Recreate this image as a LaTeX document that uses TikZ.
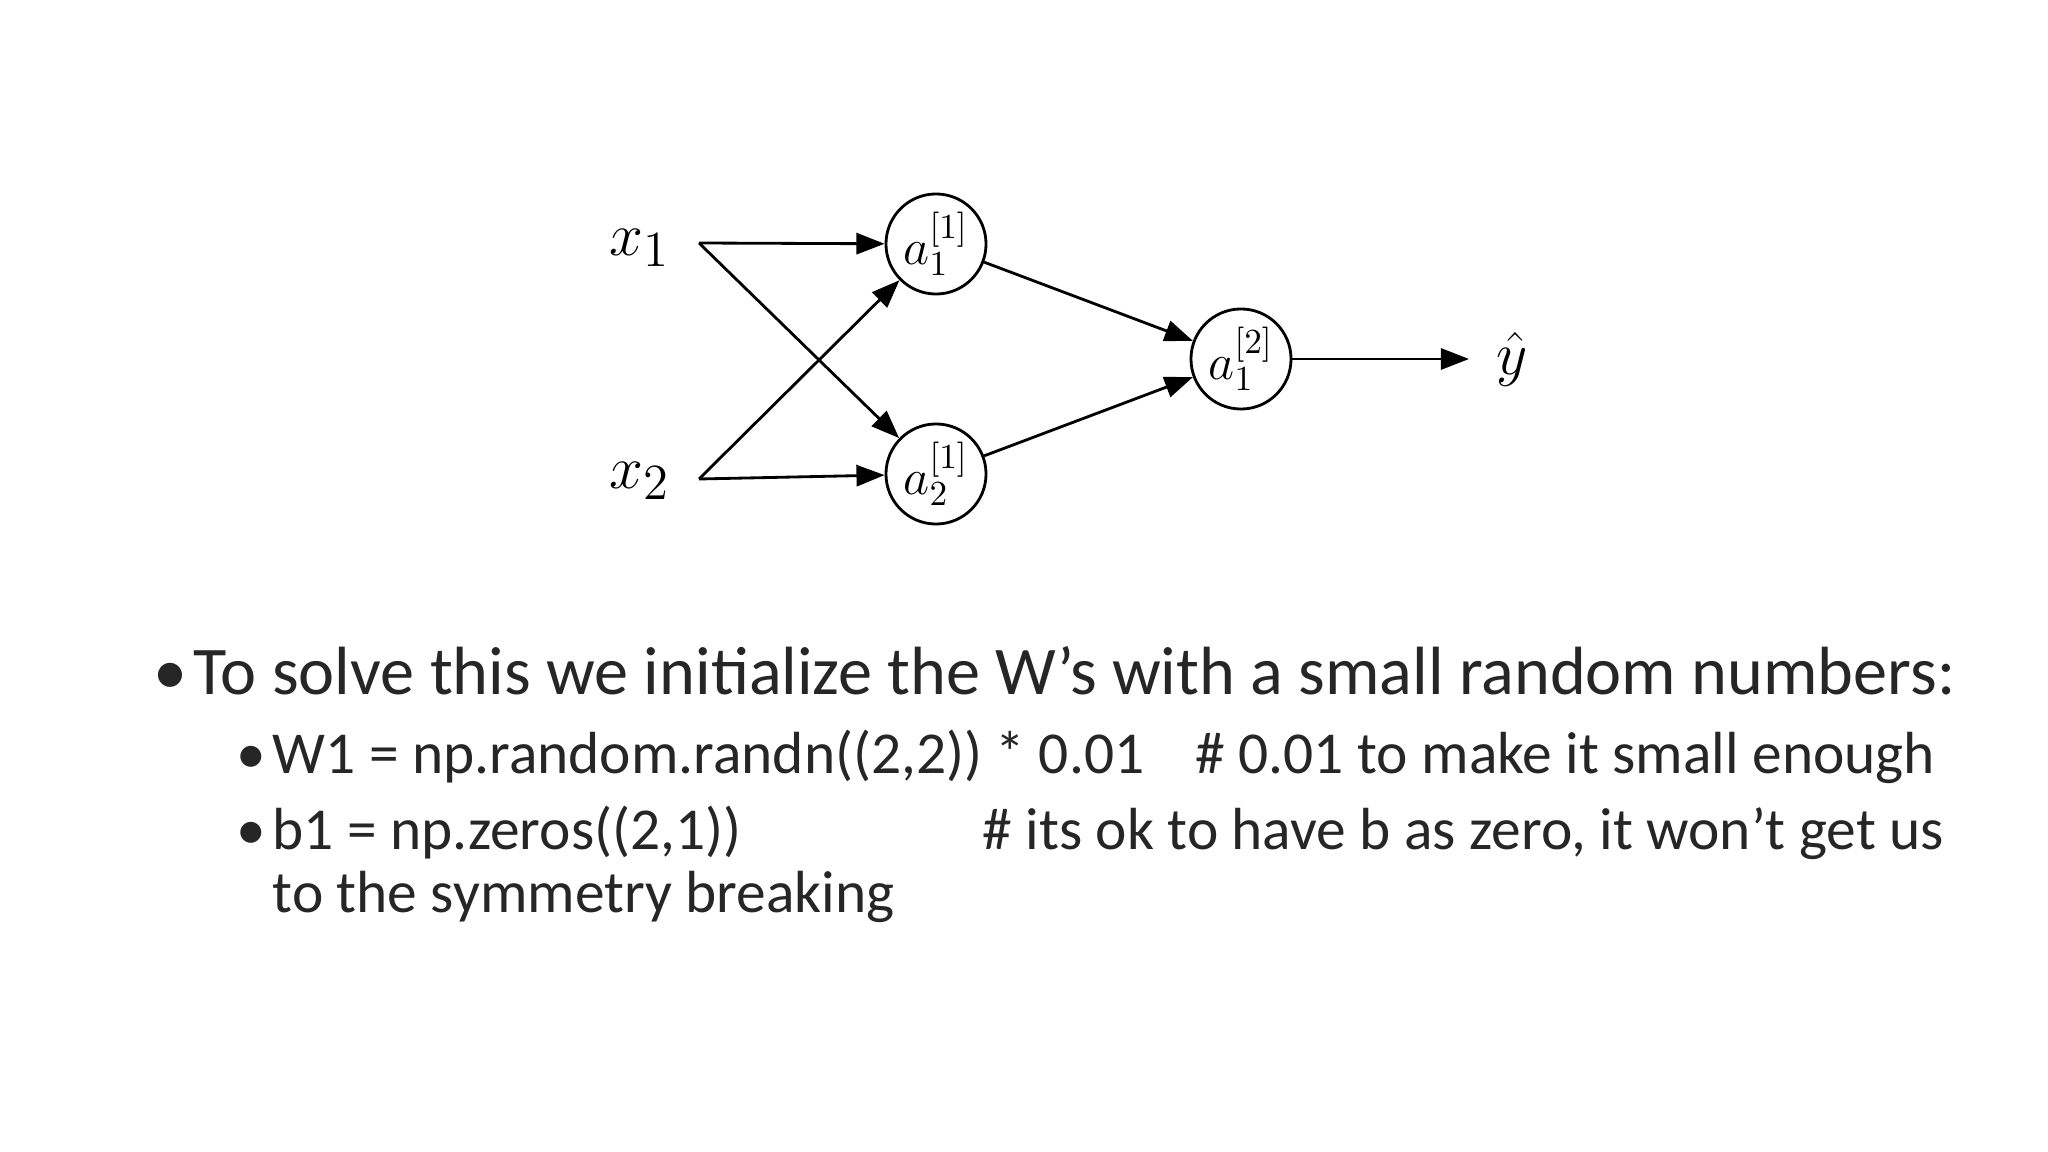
\documentclass[tikz,border=0pt]{standalone}
\usepackage{fontspec}
\setmainfont{Carlito}
\usetikzlibrary{arrows.meta}
\begin{document}
\begin{tikzpicture}[x=0.01cm,y=-0.01cm,
  neuron/.style={circle,draw,line width=0.8pt,minimum size=1cm,inner sep=0pt,font=\fontsize{14}{16}\selectfont},
  lbl/.style={font=\fontsize{19}{22}\selectfont},
  conn/.style={line width=0.8pt,-{Triangle[length=8pt,width=6pt]}},
  big/.style={anchor=base west,inner sep=0pt,font=\fontsize{19.4}{22}\selectfont,color=black!85},
  small/.style={anchor=base west,inner sep=0pt,font=\fontsize{16.9}{20}\selectfont,color=black!85}]
\useasboundingbox (0,0) rectangle (2048,1152);
\node[lbl] (x1) at (640,248) {$x_1$};
\node[lbl] (x2) at (640,481) {$x_2$};
\coordinate (s1) at (699,243);
\coordinate (s2) at (699,479);
\node[neuron] (a11) at (936,244) {$a_1^{[1]}$};
\node[neuron] (a21) at (936,474) {$a_2^{[1]}$};
\node[neuron] (a12) at (1241,359) {$a_1^{[2]}$};
\node[lbl] (y) at (1512,359) {$\hat{y}$};
\coordinate (e) at (1469,359);
\draw[conn] (s1) -- (a11);
\draw[conn] (s1) -- (a21);
\draw[conn] (s2) -- (a11);
\draw[conn] (s2) -- (a21);
\draw[conn] (a11) -- (a12);
\draw[conn] (a21) -- (a12);
\draw[conn] (a12) -- (e);
\node[big] (b0) at (153,695) {•};
\node[big] (t0) at (193,695) {To solve this we initialize the W's with a small random numbers:};
\node[small] (b1) at (236,773) {•};
\node[small] (t1) at (272,773) {W1 = np.random.randn((2,2)) * 0.01};
\node[small] (c1) at (1195,773) {\# 0.01 to make it small enough};
\node[small] (b2) at (236,849) {•};
\node[small] (t2) at (272,849) {b1 = np.zeros((2,1))};
\node[small] (c2) at (982,849) {\# its ok to have b as zero, it won't get us};
\node[small] (t3) at (272,912) {to the symmetry breaking};
\end{tikzpicture}
\end{document}
